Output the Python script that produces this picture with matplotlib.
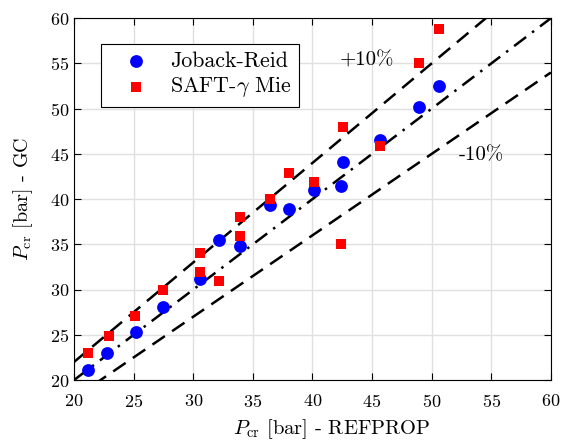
import numpy as np
import matplotlib
matplotlib.use("Agg")
import matplotlib.pyplot as plt

plt.rcParams['font.family'] = 'cmr10'
plt.rcParams['mathtext.fontset'] = 'cm'
plt.rcParams['axes.formatter.use_mathtext'] = True

# Joback-Reid: REFPROP vs group contribution
jr_ref = [21.2, 22.8, 25.2, 27.5, 30.6, 32.2, 33.9, 36.4, 38.0, 40.1, 42.4, 42.6, 45.7, 48.9, 50.6]
jr_gc = [21.1, 23.0, 25.3, 28.1, 31.2, 35.5, 34.8, 39.3, 38.9, 41.0, 41.5, 44.1, 46.5, 50.2, 52.5]

# SAFT-gamma Mie
saft_ref = [21.2, 22.9, 25.1, 27.5, 30.6, 30.6, 32.2, 33.9, 33.9, 36.4, 38.0, 40.1, 42.4, 42.6, 45.7, 48.9, 50.6]
saft_gc = [23.0, 24.9, 27.1, 30.0, 34.1, 31.9, 31.0, 38.0, 35.9, 40.0, 42.9, 41.9, 35.0, 48.0, 45.9, 55.0, 58.8]

fig = plt.figure(figsize=(5.65, 4.44), dpi=100)
ax = fig.add_axes([0.131, 0.144, 0.844, 0.815])

xx = np.array([20, 60])
ax.plot(xx, 1.1 * xx, 'k--', lw=1.8, dashes=(6, 3.5), zorder=2)
ax.plot(xx, xx, 'k-.', lw=1.8, dashes=(6, 3, 1, 3), zorder=2)
ax.plot(xx, 0.9 * xx, 'k--', lw=1.8, dashes=(6, 3.5), zorder=2)

ax.scatter(jr_ref, jr_gc, s=85, c='b', marker='o', lw=0, label='Joback-Reid', zorder=3)
ax.scatter(saft_ref, saft_gc, s=55, c='r', marker='s', lw=0, label=r'SAFT-$\gamma$ Mie', zorder=4)

ax.text(44.6, 55.3, '+10%', fontsize=15, ha='center', va='center')
ax.text(54.2, 44.9, '-10%', fontsize=15, ha='center', va='center')

ax.set_xlim(20, 60)
ax.set_ylim(20, 60)
ax.set_xticks(np.arange(20, 61, 5))
ax.set_yticks(np.arange(20, 61, 5))
ax.tick_params(direction='in', top=True, right=True, labelsize=13, length=5)
ax.tick_params(axis='x', pad=9)
ax.grid(True, color='#e0e0e0', lw=1)
ax.set_axisbelow(True)

ax.set_xlabel(r'$P_{\rm cr}$ [bar] - REFPROP', fontsize=14.8)
ax.xaxis.set_label_coords(0.54, -0.104)
ax.set_ylabel(r'$P_{\rm cr}$ [bar] - GC', fontsize=14.5)
ax.yaxis.set_label_coords(-0.081, 0.5)

leg = ax.legend(loc='upper left', bbox_to_anchor=(0.0566, 0.928), borderaxespad=0,
                fontsize=15.8, fancybox=False, edgecolor='k', framealpha=1,
                borderpad=0.33, handlelength=2.5, handletextpad=0.3, labelspacing=0.2)
leg.get_frame().set_linewidth(0.8)

fig.savefig('out.png', dpi=100)
